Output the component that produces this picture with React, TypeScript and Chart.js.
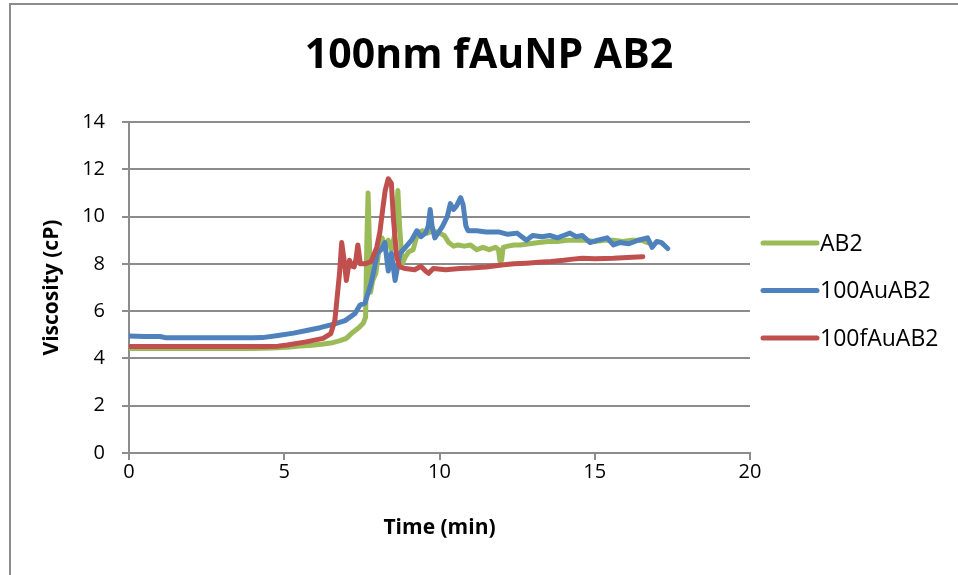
import React, { useEffect, useRef } from "react";
import { Chart, registerables } from "chart.js";

Chart.register(...registerables);

// Viscosity (cP) against time (min) for each sample
const ab2Time = [0, 1, 2, 3, 4, 4.6, 5.1, 5.5, 5.9, 6.2, 6.5, 6.8, 7.0, 7.2, 7.4, 7.55, 7.62, 7.66, 7.7, 7.74, 7.78, 7.85, 7.95, 8.05, 8.15, 8.25, 8.35, 8.45, 8.55, 8.62, 8.66, 8.72, 8.8, 8.9, 9.0, 9.15, 9.3, 9.45, 9.6, 9.8, 10.0, 10.15, 10.3, 10.45, 10.6, 10.8, 11.0, 11.2, 11.4, 11.6, 11.8, 11.9, 11.95, 12.0, 12.05, 12.2, 12.4, 12.6, 12.9, 13.2, 13.5, 13.8, 14.1, 14.4, 14.7, 15.0, 15.3, 15.6, 15.9, 16.2, 16.5, 16.7];
const ab2Visc = [4.42, 4.42, 4.42, 4.42, 4.42, 4.44, 4.47, 4.52, 4.56, 4.6, 4.65, 4.75, 4.85, 5.1, 5.3, 5.5, 5.75, 9.0, 11.0, 9.0, 6.8, 7.3, 7.6, 8.6, 9.1, 8.7, 9.0, 8.6, 9.2, 10.2, 11.1, 9.5, 8.0, 8.3, 8.5, 8.6, 9.3, 9.4, 9.3, 9.4, 9.3, 9.2, 8.9, 8.75, 8.8, 8.75, 8.8, 8.6, 8.7, 8.6, 8.7, 8.6, 8.1, 8.15, 8.7, 8.75, 8.8, 8.8, 8.85, 8.9, 8.95, 8.95, 9.0, 9.0, 9.0, 8.95, 9.0, 9.0, 8.95, 9.0, 9.0, 8.9];

const auTime = [0, 0.5, 1.0, 1.2, 2, 3, 4, 4.3, 4.8, 5.3, 5.8, 6.15, 6.6, 6.96, 7.28, 7.44, 7.6, 7.8, 7.9, 8.0, 8.12, 8.24, 8.35, 8.45, 8.57, 8.73, 8.9, 9.1, 9.27, 9.4, 9.55, 9.64, 9.7, 9.76, 9.85, 9.95, 10.1, 10.25, 10.35, 10.45, 10.55, 10.68, 10.76, 10.85, 10.92, 11.2, 11.5, 11.9, 12.2, 12.5, 12.65, 12.8, 13.0, 13.3, 13.55, 13.8, 14.0, 14.2, 14.4, 14.6, 14.85, 15.1, 15.4, 15.6, 15.8, 16.1, 16.4, 16.7, 16.85, 17.0, 17.15, 17.35];
const auVisc = [4.95, 4.93, 4.93, 4.87, 4.87, 4.87, 4.87, 4.88, 4.97, 5.07, 5.2, 5.3, 5.45, 5.6, 5.9, 6.26, 6.34, 7.2, 7.8, 8.45, 8.6, 8.9, 7.7, 8.45, 7.3, 8.45, 8.7, 9.0, 9.4, 9.15, 9.3, 9.6, 10.3, 9.6, 9.1, 9.3, 9.6, 10.0, 10.55, 10.3, 10.45, 10.8, 10.5, 9.6, 9.4, 9.4, 9.35, 9.35, 9.25, 9.3, 9.15, 9.0, 9.2, 9.15, 9.2, 9.1, 9.2, 9.3, 9.15, 9.2, 8.9, 9.0, 9.1, 8.8, 8.9, 8.85, 9.0, 9.1, 8.7, 8.95, 8.9, 8.65];

const fAuTime = [0, 1, 2, 3, 4, 4.3, 4.8, 5.1, 5.7, 6.25, 6.5, 6.63, 6.72, 6.78, 6.85, 6.93, 7.0, 7.1, 7.18, 7.25, 7.31, 7.37, 7.45, 7.6, 7.8, 7.98, 8.08, 8.17, 8.25, 8.35, 8.45, 8.52, 8.62, 8.72, 8.9, 9.2, 9.4, 9.55, 9.65, 9.8, 10.2, 10.66, 11.0, 11.5, 12.0, 12.4, 12.8, 13.2, 13.6, 14.0, 14.3, 14.6, 15.0, 15.6, 16.2, 16.55];
const fAuVisc = [4.5, 4.5, 4.5, 4.5, 4.5, 4.5, 4.52, 4.57, 4.7, 4.85, 5.05, 5.6, 6.8, 7.6, 8.9, 8.15, 7.3, 8.15, 7.9, 7.87, 8.2, 8.8, 8.0, 8.0, 8.1, 8.7, 9.35, 10.3, 11.1, 11.6, 11.4, 9.85, 8.3, 7.87, 7.8, 7.75, 7.9, 7.7, 7.6, 7.8, 7.75, 7.8, 7.82, 7.87, 7.95, 8.0, 8.03, 8.07, 8.1, 8.15, 8.2, 8.24, 8.22, 8.24, 8.28, 8.3];

const seriesLabels = ["AB2", "100AuAB2", "100fAuAB2"];
const xTicks = [0, 5, 10, 15, 20];
const yTicks = [0, 2, 4, 6, 8, 10, 12, 14];

const chartTitle = "100nm fAuNP AB2";
const xTitle = "Time (min)";
const yTitle = "Viscosity (cP)";

const GREEN = "#9BBB59";
const BLUE = "#4F81BD";
const RED = "#C0504D";
const GRID = "#8c8c8c";
const FONT = "'Open Sans', 'DejaVu Sans', sans-serif";

const toPoints = (xs: number[], ys: number[]) => xs.map((x, i) => ({ x, y: ys[i] }));

// Outer frame, title and the legend at the right of the plot
const decorPlugin = {
  id: "decor",
  beforeDraw(chart: any) {
    const { ctx, width, height } = chart;
    ctx.save();
    ctx.fillStyle = "#ffffff";
    ctx.fillRect(0, 0, width, height);
    ctx.strokeStyle = GRID;
    ctx.lineWidth = 2;
    ctx.strokeRect(10, 4, width + 50, height + 50);
    ctx.restore();
  },
  afterDraw(chart: any) {
    const { ctx, chartArea } = chart;
    ctx.save();
    ctx.fillStyle = "#000";
    ctx.font = `bold 41px ${FONT}`;
    ctx.textAlign = "center";
    ctx.textBaseline = "middle";
    ctx.fillText(chartTitle, 489, 56);

    const lx = chartArea.right + 13;
    chart.data.datasets.forEach((ds: any, i: number) => {
      const y = 243 + i * 47.5;
      ctx.strokeStyle = ds.borderColor;
      ctx.lineWidth = 5;
      ctx.lineCap = "round";
      ctx.beginPath();
      ctx.moveTo(lx, y);
      ctx.lineTo(lx + 54, y);
      ctx.stroke();
      ctx.fillStyle = "#000";
      ctx.font = `23px ${FONT}`;
      ctx.textAlign = "left";
      ctx.textBaseline = "middle";
      ctx.fillText(ds.label, lx + 57, y + 1);
    });
    ctx.restore();
  },
};

export default function App() {
  const ref = useRef<HTMLCanvasElement | null>(null);

  useEffect(() => {
    if (!ref.current) return;
    const lineStyle = {
      borderWidth: 5,
      pointRadius: 0,
      tension: 0,
      borderJoinStyle: "round" as const,
      borderCapStyle: "round" as const,
      fill: false,
    };
    const chart = new Chart(ref.current, {
      type: "line",
      data: {
        datasets: [
          { label: seriesLabels[0], data: toPoints(ab2Time, ab2Visc), borderColor: GREEN, backgroundColor: GREEN, order: 3, ...lineStyle },
          { label: seriesLabels[1], data: toPoints(auTime, auVisc), borderColor: BLUE, backgroundColor: BLUE, order: 2, ...lineStyle },
          { label: seriesLabels[2], data: toPoints(fAuTime, fAuVisc), borderColor: RED, backgroundColor: RED, order: 1, ...lineStyle },
        ],
      },
      options: {
        animation: false,
        responsive: true,
        maintainAspectRatio: false,
        layout: { padding: { left: 10, right: 208, top: 122, bottom: 0 } },
        plugins: {
          legend: { display: false },
          title: { display: false },
          tooltip: { enabled: false },
        },
        scales: {
          x: {
            type: "linear",
            min: 0,
            max: 20,
            afterBuildTicks: (scale: any) => {
              scale.ticks = xTicks.map((value) => ({ value }));
            },
            afterFit: (scale: any) => {
              scale.height = 122;
            },
            ticks: { color: "#000", font: { family: FONT, size: 20 }, padding: 0 },
            grid: { drawOnChartArea: false, drawTicks: true, tickLength: 7, color: GRID, lineWidth: 2 },
            border: { color: GRID, width: 2 },
            title: {
              display: true,
              text: xTitle,
              color: "#000",
              font: { family: FONT, size: 21, weight: "bold" },
              padding: { top: 0, bottom: 34 },
            },
          },
          y: {
            type: "linear",
            min: 0,
            max: 14,
            afterBuildTicks: (scale: any) => {
              scale.ticks = yTicks.map((value) => ({ value }));
            },
            afterFit: (scale: any) => {
              scale.width = 119;
            },
            ticks: { color: "#000", font: { family: FONT, size: 20 }, padding: 17 },
            grid: { drawTicks: true, tickLength: 7, color: GRID, lineWidth: 2 },
            border: { color: GRID, width: 2 },
            title: {
              display: true,
              text: yTitle,
              color: "#000",
              font: { family: FONT, size: 21, weight: "bold" },
              padding: { top: 29, bottom: 0 },
            },
          },
        },
      },
      plugins: [decorPlugin],
    } as any);
    return () => chart.destroy();
  }, []);

  return (
    <div style={{ position: "absolute", left: 0, top: 0, width: 958, height: 575, background: "#fff" }}>
      <canvas ref={ref} />
    </div>
  );
}
